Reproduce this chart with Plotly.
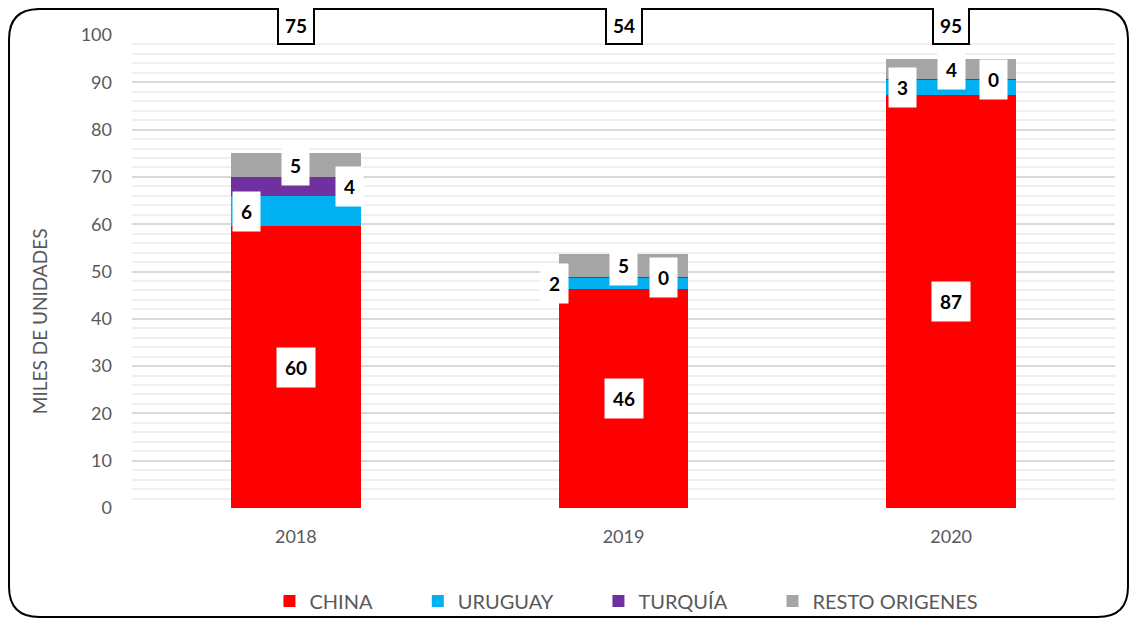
import plotly.graph_objects as go
import numpy as np

# ---- data ----
years = ["2018", "2019", "2020"]
series_names = ["CHINA", "URUGUAY", "TURQUÍA", "RESTO ORIGENES"]
china = [59.6, 46.3, 87.4]
uruguay = [6.3, 2.4, 3.2]
turquia = [4.1, 0.2, 0.1]
resto = [5.0, 4.7, 4.2]
y_ticks = [0, 10, 20, 30, 40, 50, 60, 70, 80, 90, 100]

# ---- style ----
colors = ["#FF0000", "#00B0F0", "#7030A0", "#A5A5A5"]
label_xshift = [[0, 0, 0], [-49, -69, -49], [54, 40, 42], [0, 0, 0]]
legend_pad = [8, 8, 8, 0]
FONT = "Lato, 'Open Sans', sans-serif"
GREY = "#595959"

values = [china, uruguay, turquia, resto]
fig = go.Figure()
for name, vals, col, pad in zip(series_names, values, colors, legend_pad):
    fig.add_trace(go.Bar(
        x=years, y=vals, name=name + "\u00a0" * pad,
        marker=dict(color=col, line=dict(width=0)),
        width=0.395,
    ))

arr = np.array(values)
cum = np.cumsum(arr, axis=0)
totals = cum[-1]
annotations = []
for i, vals in enumerate(values):
    for j, yr in enumerate(years):
        mid = float(cum[i][j] - vals[j] / 2)
        annotations.append(dict(
            x=j, y=mid, xref="x", yref="y", text=f"<b>{vals[j]:.0f}</b>",
            showarrow=False, xshift=label_xshift[i][j],
            font=dict(family=FONT, size=19, color="black"),
            bgcolor="white", borderpad=8,
        ))
for j, yr in enumerate(years):
    annotations.append(dict(
        x=j, y=1, xref="x", yref="paper", yshift=10, yanchor="middle",
        text=f"<b>{totals[j]:.0f}</b>", showarrow=False,
        font=dict(family=FONT, size=19, color="black"),
        bgcolor="white", bordercolor="black", borderwidth=2, borderpad=6,
    ))
annotations.append(dict(
    x=-0.0946, y=0.395, xref="paper", yref="paper", text="MILES DE UNIDADES",
    xanchor="center", yanchor="middle",
    textangle=-90, showarrow=False, font=dict(family=FONT, size=19, color=GREY),
))

# rounded border (paper coords)
L, R, T, B = -0.1251, 1.0132, 1.055, -0.2304
rx, ry = 0.031, 0.064
path = (f"M {L+rx},{T} L {R-rx},{T} Q {R},{T} {R},{T-ry} L {R},{B+ry} "
        f"Q {R},{B} {R-rx},{B} L {L+rx},{B} "
        f"Q {L},{B} {L},{B+ry} L {L},{T-ry} Q {L},{T} {L+rx},{T} Z")

fig.update_layout(
    barmode="stack",
    width=1121, height=610,
    margin=dict(l=124, r=14, t=27, b=110, autoexpand=False),
    paper_bgcolor="white", plot_bgcolor="white",
    font=dict(family=FONT, color=GREY),
    showlegend=True,
    legend=dict(orientation="h", x=0.503, xanchor="center", y=-0.1966, yanchor="middle",
                bgcolor="rgba(0,0,0,0)",
                font=dict(family=FONT, size=20, color=GREY), traceorder="normal"),
    annotations=annotations,
    shapes=[dict(type="path", xref="paper", yref="paper", path=path,
                 line=dict(color="black", width=2), layer="above")],
    xaxis=dict(type="category", range=[-0.5, 2.5], showgrid=False, showline=False, ticks="",
               ticklabelstandoff=16, automargin=False,
               tickfont=dict(family=FONT, size=18, color=GREY)),
    yaxis=dict(range=[0, 100], tickvals=y_ticks, showline=False, zeroline=False,
               gridcolor="#D9D9D9", gridwidth=2, automargin=False,
               minor=dict(dtick=2, showgrid=True, gridcolor="#EFEFEF", gridwidth=2),
               ticklabelstandoff=19,
               tickfont=dict(family=FONT, size=18, color=GREY)),
)

fig.write_html("out.html")
